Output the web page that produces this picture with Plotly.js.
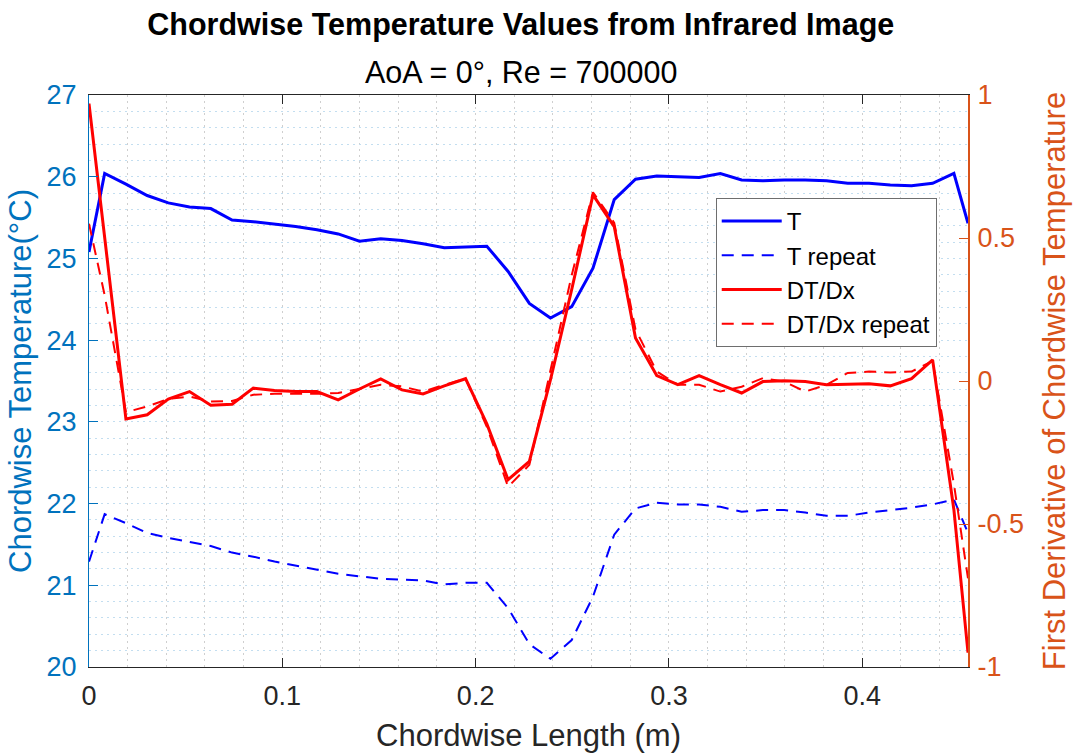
<!DOCTYPE html>
<html>
<head>
<meta charset="utf-8">
<script src="https://cdn.plot.ly/plotly-3.0.1.min.js"></script>
<style>html,body{margin:0;padding:0;background:#fff;}#chart{width:1076px;height:754px;}</style>
</head>
<body>
<div id="chart"></div>
<script>
// Chordwise positions (m)
const chordX = [0, 0.0081, 0.0191, 0.0301, 0.0410, 0.0520, 0.0630, 0.0740, 0.0850, 0.0960,
  0.1069, 0.1179, 0.1289, 0.1399, 0.1509, 0.1619, 0.1728, 0.1838, 0.1948, 0.2058,
  0.2168, 0.2278, 0.2387, 0.2497, 0.2607, 0.2717, 0.2827, 0.2937, 0.3046, 0.3156,
  0.3266, 0.3376, 0.3486, 0.3596, 0.3705, 0.3815, 0.3925, 0.4035, 0.4145, 0.4255,
  0.4364, 0.4474, 0.4547];

// Temperature (°C)
const tempT = [25.08, 26.04, 25.91, 25.77, 25.68, 25.63, 25.61, 25.47, 25.45, 25.42,
  25.39, 25.35, 25.30, 25.21, 25.24, 25.22, 25.18, 25.13, 25.14, 25.15,
  24.84, 24.45, 24.27, 24.41, 24.88, 25.72, 25.97, 26.01, 26.00, 25.99,
  26.04, 25.96, 25.95, 25.96, 25.96, 25.95, 25.92, 25.92, 25.90, 25.89,
  25.92, 26.04, 25.43];

const tempRepeat = [21.29, 21.87, 21.76, 21.64, 21.58, 21.53, 21.48, 21.40, 21.35, 21.29,
  21.24, 21.19, 21.14, 21.11, 21.08, 21.07, 21.06, 21.01, 21.03, 21.03,
  20.72, 20.28, 20.10, 20.33, 20.86, 21.62, 21.94, 22.01, 21.99, 21.99,
  21.96, 21.90, 21.92, 21.92, 21.89, 21.85, 21.85, 21.89, 21.92, 21.95,
  21.99, 22.05, 21.64];

// First derivative
const dTdx = [0.97, 0.50, -0.133, -0.118, -0.063, -0.037, -0.085, -0.081, -0.025, -0.033,
  -0.037, -0.037, -0.066, -0.028, 0.007, -0.031, -0.045, -0.017, 0.008, -0.15,
  -0.345, -0.281, 0.004, 0.32, 0.651, 0.54, 0.15, 0.019, -0.013, 0.019,
  -0.013, -0.042, -0.002, 0.001, -0.002, -0.013, -0.011, -0.010, -0.017, 0.008,
  0.074, -0.45, -0.95];

const dTdxRepeat = [0.55, 0.30, -0.109, -0.089, -0.063, -0.054, -0.072, -0.070, -0.048, -0.045,
  -0.045, -0.045, -0.042, -0.028, -0.013, -0.019, -0.037, -0.013, 0.008, -0.16,
  -0.37, -0.293, 0.04, 0.37, 0.66, 0.553, 0.18, 0.033, -0.013, -0.013,
  -0.037, -0.02, 0.01, -0.002, -0.037, -0.013, 0.028, 0.033, 0.03, 0.033,
  0.07, -0.36, -0.69];

// Tick labels
const xTickVals = [0, 0.1, 0.2, 0.3, 0.4];
const xTickText = ['0', '0.1', '0.2', '0.3', '0.4'];
const yTickVals = [20, 21, 22, 23, 24, 25, 26, 27];
const yTickText = ['20', '21', '22', '23', '24', '25', '26', '27'];
const y2TickVals = [-1, -0.5, 0, 0.5, 1];
const y2TickText = ['-1', '-0.5', '0', '0.5', '1'];

const FONT = 'Liberation Sans, Arial, Helvetica, sans-serif';
const BLUEAX = '#0072BD';
const ORANGE = '#D95319';
const GRIDX = '#cfcfcf';
const GRIDY = '#c3def0';
const GDASH = '2px,4px';

const traces = [
  {x: chordX, y: tempT, name: 'T', type: 'scatter', mode: 'lines',
   line: {color: '#0000FF', width: 3}, yaxis: 'y'},
  {x: chordX, y: tempRepeat, name: 'T repeat', type: 'scatter', mode: 'lines',
   line: {color: '#0000FF', width: 2, dash: '12px,8px'}, yaxis: 'y'},
  {x: chordX, y: dTdx, name: 'DT/Dx', type: 'scatter', mode: 'lines',
   line: {color: '#FF0000', width: 3}, yaxis: 'y2'},
  {x: chordX, y: dTdxRepeat, name: 'DT/Dx repeat', type: 'scatter', mode: 'lines',
   line: {color: '#FF0000', width: 2, dash: '12px,8px'}, yaxis: 'y2'}
];

const layout = {
  width: 1076, height: 754, autosize: false,
  paper_bgcolor: '#ffffff', plot_bgcolor: '#ffffff',
  margin: {l: 89, r: 108, t: 95, b: 87, pad: 0},
  font: {family: FONT, color: '#262626'},
  showlegend: true,
  title: {
    text: '<b>Chordwise Temperature Values from Infrared Image</b>',
    font: {family: FONT, size: 30.5, color: '#000000'},
    xref: 'container', x: 0.484, xanchor: 'center',
    yref: 'container', y: 0.982, yanchor: 'top'
  },
  annotations: [{
    text: 'AoA = 0°, Re = 700000',
    xref: 'paper', yref: 'paper', x: 0.4915, y: 1.0402,
    xanchor: 'center', yanchor: 'middle', showarrow: false,
    font: {family: FONT, size: 30.5, color: '#000000'}
  }],
  xaxis: {
    range: [0, 0.4547],
    tickmode: 'array', tickvals: xTickVals, ticktext: xTickText,
    ticks: 'inside', ticklen: 9, tickwidth: 1, tickcolor: '#262626',
    showline: true, linecolor: '#262626', linewidth: 1, mirror: 'ticks',
    showgrid: true, gridcolor: GRIDX, griddash: GDASH, gridwidth: 1,
    minor: {dtick: 0.02, tick0: 0, showgrid: true, gridcolor: GRIDX, griddash: GDASH, gridwidth: 1, ticks: ''},
    zeroline: false,
    tickfont: {family: FONT, size: 27, color: '#262626'},
    ticklabelstandoff: 5,
    title: {text: 'Chordwise Length (m)', font: {family: FONT, size: 31, color: '#262626'}, standoff: 13}
  },
  yaxis: {
    range: [20, 27],
    tickmode: 'array', tickvals: yTickVals, ticktext: yTickText,
    ticks: 'inside', ticklen: 9, tickwidth: 1, tickcolor: BLUEAX,
    showline: true, linecolor: BLUEAX, linewidth: 1,
    showgrid: true, gridcolor: GRIDY, griddash: GDASH, gridwidth: 1,
    minor: {dtick: 0.2, tick0: 20, showgrid: true, gridcolor: GRIDY, griddash: GDASH, gridwidth: 1, ticks: ''},
    zeroline: false,
    tickfont: {family: FONT, size: 27, color: BLUEAX},
    ticklabelstandoff: 6,
    title: {text: 'Chordwise Temperature(°C)', font: {family: FONT, size: 31, color: BLUEAX}, standoff: 5}
  },
  yaxis2: {
    overlaying: 'y', side: 'right',
    range: [-1, 1],
    tickmode: 'array', tickvals: y2TickVals, ticktext: y2TickText,
    ticks: 'inside', ticklen: 9, tickwidth: 1, tickcolor: ORANGE,
    showline: true, linecolor: ORANGE, linewidth: 2,
    showgrid: false, zeroline: false,
    tickfont: {family: FONT, size: 27, color: ORANGE},
    ticklabelstandoff: 2,
    title: {text: 'First Derivative of Chordwise Temperature', font: {family: FONT, size: 31, color: ORANGE}, standoff: 20}
  },
  legend: {
    x: 0.713, y: 0.82, xanchor: 'left', yanchor: 'top',
    xref: 'paper', yref: 'paper',
    bgcolor: '#ffffff', bordercolor: '#6e6e6e', borderwidth: 1,
    font: {family: FONT, size: 24, color: '#000000'},
    tracegroupgap: 0, itemwidth: 60
  }
};

Plotly.newPlot('chart', traces, layout, {displayModeBar: false, staticPlot: true});
</script>
</body>
</html>
